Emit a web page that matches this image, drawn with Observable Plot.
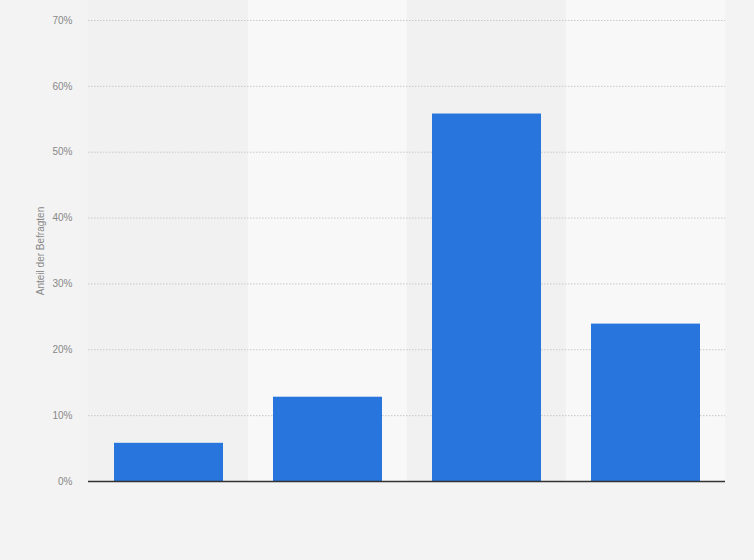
<!DOCTYPE html>
<html>
<head>
<meta charset="utf-8">
<script src="https://cdn.jsdelivr.net/npm/d3@7"></script>
<script src="https://cdn.jsdelivr.net/npm/@observablehq/plot@0.6"></script>
<style>
  html, body { margin: 0; padding: 0; background: #f3f3f3; }
  svg { display: block; }
</style>
</head>
<body>
<div id="chart"></div>
<script>
const categories = ["A", "B", "C", "D"];
const values = [5.8, 12.8, 55.8, 23.9];
const yTicks = [0, 10, 20, 30, 40, 50, 60, 70];
const bandFills = ["#f1f1f1", "#f8f8f8", "#f1f1f1", "#f8f8f8"];
const yLabel = "Anteil der Befragten";

const data = categories.map((c, i) => ({ category: c, value: values[i], band: bandFills[i] }));

const chart = Plot.plot({
  width: 754,
  height: 560,
  marginTop: 20,
  marginBottom: 79,
  marginLeft: 88,
  marginRight: 29,
  style: { background: "#f3f3f3", fontFamily: "'Liberation Sans', Arial, sans-serif", fontSize: "10px", color: "#888" },
  x: { domain: categories, paddingInner: 0.315, paddingOuter: 0.1575, axis: null },
  y: { domain: [0, 70], ticks: yTicks },
  marks: [
    Plot.cell(data, { x: "category", fill: "band", insetLeft: -25.2, insetRight: -25.2, insetTop: -20 }),
    Plot.gridY(yTicks.filter(t => t > 0), { stroke: "#c8c8c8", strokeOpacity: 1, strokeDasharray: "1.5,1.5" }),
    Plot.barY(data, { x: "category", y: "value", fill: "#2876dd" }),
    Plot.ruleY([0], { stroke: "#333", strokeWidth: 1.3 }),
    Plot.axisY(yTicks, { tickSize: 0, tickPadding: 16, tickFormat: d => d + "%", fill: "#888", fontSize: 10,
      label: yLabel, labelAnchor: "center", labelArrow: "none", labelOffset: 52 })
  ]
});
document.getElementById("chart").appendChild(chart);
</script>
</body>
</html>
